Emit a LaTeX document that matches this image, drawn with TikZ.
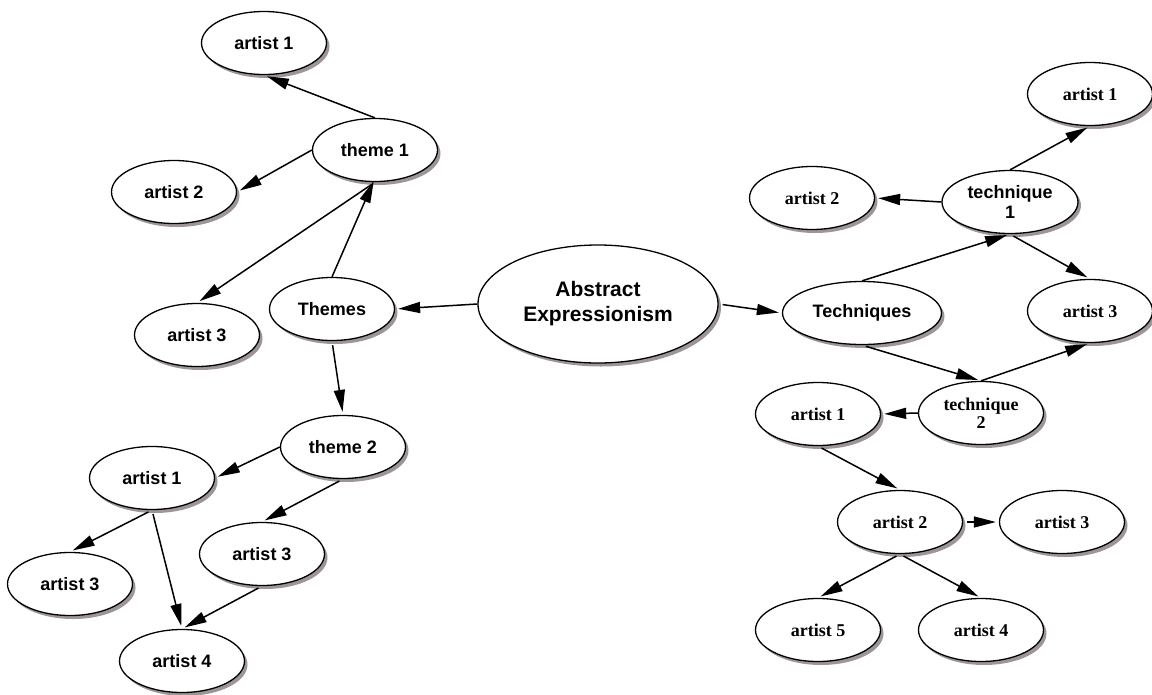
\documentclass[tikz,border=0pt]{standalone}
\usepackage{fontspec}
\setmainfont{Liberation Sans}
\newfontfamily\timesfam{Liberation Serif}
\usetikzlibrary{shapes.geometric,shadows,arrows.meta}
\definecolor{shadowc}{RGB}{158,150,150}
\tikzset{
  bub/.style={ellipse, draw=black, line width=1.3pt, fill=white,
    minimum width=125pt, minimum height=63pt, inner sep=0pt, align=center,
    font=\bfseries\fontsize{18}{20}\selectfont,
    drop shadow={shadow xshift=3pt, shadow yshift=-3.5pt, fill=shadowc, opacity=1}},
  sbub/.style={bub, font=\timesfam\bfseries\fontsize{18}{18}\selectfont},
  link/.style={line width=1.5pt, -{Triangle[length=22pt,width=11pt]}, shorten >=3pt},
  off/.style={shorten <=4pt},
}
\begin{document}
\begin{tikzpicture}[x=1pt,y=-1pt]
\useasboundingbox (0,0) rectangle (1152,694);

% central topic
\node[bub, minimum width=240pt, minimum height=118pt,
      font=\bfseries\fontsize{21}{25}\selectfont] (ae) at (598,304) {Abstract\\Expressionism};

% themes branch
\node[bub] (themes) at (332,309) {Themes};
\node[bub] (th1) at (375,150) {theme 1};
\node[bub] (l1) at (264,43) {artist 1};
\node[bub] (l2) at (174,192) {artist 2};
\node[bub] (l3) at (197,335) {artist 3};
\node[bub] (th2) at (343,447) {theme 2};
\node[bub] (m1) at (152,478) {artist 1};
\node[bub] (m3) at (262,554) {artist 3};
\node[bub] (m3b) at (70,584) {artist 3};
\node[bub] (m4) at (182,661) {artist 4};

% techniques branch
\node[bub, minimum width=159pt, minimum height=63pt] (tech) at (862,313) {Techniques};
\node[bub, minimum width=136pt] (t1) at (1010,202) {technique\\1};
\node[sbub] (r1) at (1090,94) {artist 1};
\node[sbub] (r2) at (812,198) {artist 2};
\node[sbub] (r3) at (1090,311) {artist 3};
\node[sbub] (t2) at (981,413) {technique\\2};
\node[sbub] (s1) at (818,414) {artist 1};
\node[sbub] (s2) at (900,522) {artist 2};
\node[sbub] (s3) at (1062,522) {artist 3};
\node[sbub] (s5) at (818,630) {artist 5};
\node[sbub] (s4) at (981,630) {artist 4};

% connectors, themes side
\draw[link] (ae.west) -- (themes.east);
\draw[link] (themes.north) -- ([yshift=4pt]th1.south);
\draw[link] (th1.north) -- (l1.south);
\draw[link] (th1.west) -- (l2.east);
\draw[link, off] (th1.south) -- (l3.north);
\draw[link, off] (themes.south) -- (th2.north);
\draw[link] (th2.west) -- (m1.east);
\draw[link, off] (th2.south) -- (m3.north);
\draw[link, off] (m1.south) -- (m3b.north);
\draw[link, off] (m1.south) -- (m4.north);
\draw[link, off] (m3.south) -- (m4.north);

% connectors, techniques side
\draw[link, off] (ae.east) -- (tech.west);
\draw[link] (tech.north) -- (t1.south);
\draw[link] (t1.north) -- (r1.south);
\draw[link] (t1.west) -- (r2.east);
\draw[link, off] (t1.south) -- (r3.north);
\draw[link, off] (tech.south) -- (t2.north);
\draw[link] (t2.north) -- (r3.south);
\draw[link] (t2.west) -- (s1.east);
\draw[link, off] (s1.south) -- (s2.north);
\draw[link, off] (s2.east) -- (s3.west);
\draw[link, off] (s2.south) -- (s5.north);
\draw[link, off] (s2.south) -- (s4.north);
\end{tikzpicture}
\end{document}
